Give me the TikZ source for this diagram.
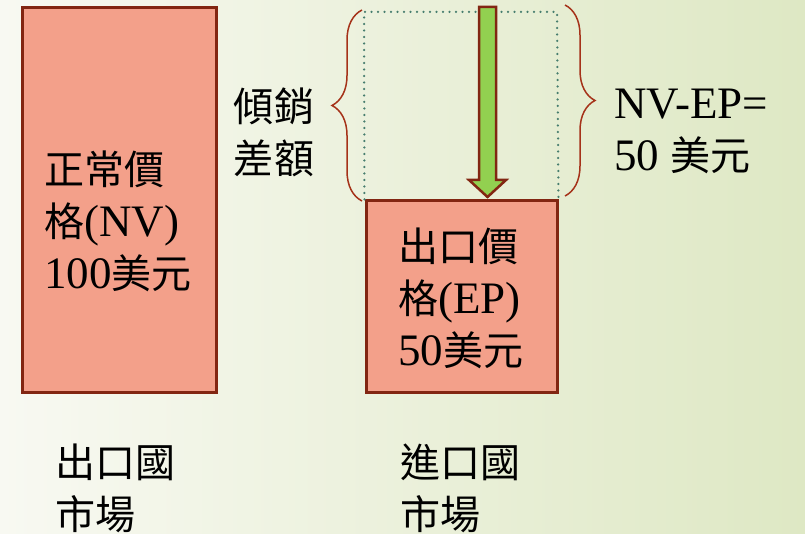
\documentclass[tikz,border=0pt]{standalone}
\usepackage{fontspec}
\setmainfont{Liberation Serif}
\newfontfamily\cjk{Noto Sans CJK TC}[Scale=0.89]
\usetikzlibrary{decorations.pathreplacing}
\definecolor{boxfill}{RGB}{243,160,138}
\definecolor{boxline}{RGB}{130,38,18}
\definecolor{bracered}{RGB}{165,50,25}
\definecolor{arrowgreen}{RGB}{146,208,80}
\definecolor{dotteal}{RGB}{70,125,110}
\definecolor{bgleft}{RGB}{248,249,242}
\definecolor{bgright}{RGB}{222,232,196}
\begin{document}
\begin{tikzpicture}[x=1pt, y=1pt,
    pricebox/.style={draw=boxline, fill=boxfill, line width=3pt, inner sep=0pt},
    bigtext/.style={font=\fontsize{45}{52}\selectfont, align=left, inner sep=0pt},
    sidebrace/.style={draw=bracered, line width=1.5pt, decorate, decoration={brace, amplitude=#1}}]
    \shade[left color=bgleft, right color=bgright] (0,0) rectangle (805,534);
    \useasboundingbox (0,0) rectangle (805,534);
    % the two price boxes
    \node[pricebox, minimum width=194, minimum height=385] (nvbox) at (119,333.5) {};
    \node[pricebox, minimum width=191, minimum height=192] (epbox) at (461.5,237) {};
    \node[bigtext, anchor=west] (nvtext) at (44,313)
        {{\cjk 正常價}\\{\cjk 格}(NV)\\100{\cjk 美元}};
    \node[bigtext, anchor=west] (eptext) at (398,235.5)
        {{\cjk 出口價}\\{\cjk 格}(EP)\\50{\cjk 美元}};
    % gap above the export price
    \draw[dotteal, line width=2.5pt, line cap=round, dash pattern=on 0pt off 6.5pt]
        (epbox.north west) -- (364,522) -- (557,522) -- (epbox.north east);
    \draw[boxline, fill=arrowgreen, line width=2.5pt, line join=miter]
        (479,527) -- (496,527) -- (496,354) -- (506,354) -- (487.5,337) -- (469,354) -- (479,354) -- cycle;
    \draw[sidebrace=30] (362,333) -- (362,524);
    \draw[sidebrace=30] (565,529) -- (565,338);
    \node[bigtext] (gaptext) at (274,401.5) {{\cjk 傾銷}\\{\cjk 差額}};
    \node[bigtext, anchor=west] (difftext) at (614,402.5) {NV-EP=\\50 {\cjk 美元}};
    % markets
    \node[bigtext, anchor=west] (expmarket) at (55,46) {{\cjk 出口國}\\{\cjk 市場}};
    \node[bigtext, anchor=west] (impmarket) at (400,46) {{\cjk 進口國}\\{\cjk 市場}};
\end{tikzpicture}
\end{document}
